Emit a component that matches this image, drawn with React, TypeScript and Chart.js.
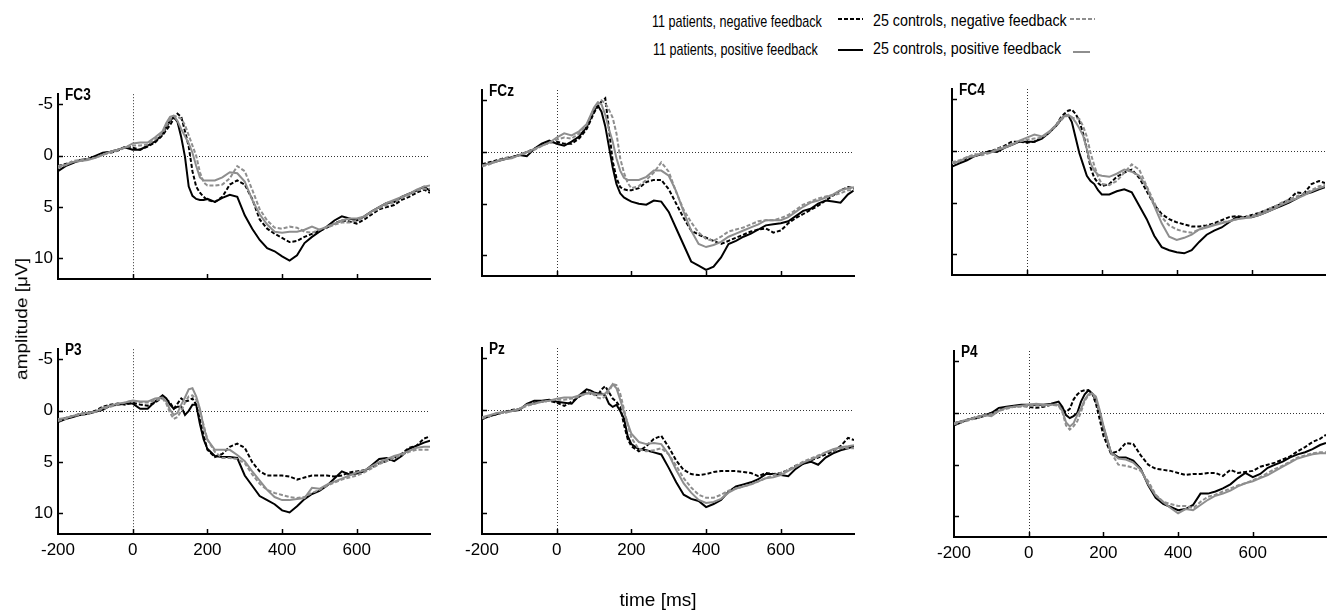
import React, { useEffect, useRef } from 'react';
import { Chart, registerables } from 'chart.js';

Chart.register(...registerables);

// ---------- data ----------
const TIMES = [
  -200, -180, -160, -140, -120, -100, -80, -60, -40, -20, 0, 20, 40, 60,
  80, 90, 100, 110, 120, 130, 140, 150, 160, 170, 180, 190, 200,
  220, 240, 260, 280, 300, 320, 340, 360, 380, 400, 420, 440, 460, 480, 500, 520, 540, 560, 580, 600,
  620, 640, 660, 680, 700, 720, 740, 760, 780,
  796,
];
const X_TICKS = [-200, 0, 200, 400, 600];
const Y_TICKS = [-5, 0, 5, 10];
const X_RANGE = [-200, 796];
const Y_RANGE = [-6, 12];
const CHANNELS = ['FC3', 'FCz', 'FC4', 'P3', 'Pz', 'P4'];
const LEGEND_LABELS = [
  '11 patients, negative feedback',
  '11 patients, positive feedback',
  '25 controls, negative feedback',
  '25 controls, positive feedback',
];

// FC3
const FC3_PAT_NEG = [
  1.0, 0.8, 0.6, 0.5, 0.3, 0.1, -0.2, -0.3, -0.5, -0.9, -0.8, -0.6, -0.9, -1.3,
  -2.0, -2.5, -3.0, -3.6, -4.1, -3.8, -2.4, -0.9, 1.5, 3.0, 3.6, 4.0, 4.3,
  4.5, 4.0, 2.8, 2.4, 2.8, 4.2, 6.2, 7.1, 7.6, 8.0, 8.4, 8.3, 7.9, 7.6, 7.3, 7.0, 6.6, 6.3, 6.4, 6.6,
  6.2, 5.7, 5.2, 5.0, 4.8, 4.3, 4.0, 3.6, 3.3,
  3.6,
];
const FC3_PAT_POS = [
  1.5, 1.0, 0.7, 0.4, 0.3, 0.0, -0.3, -0.4, -0.6, -0.8, -0.6, -0.6, -1.0, -1.4,
  -2.1, -2.8, -3.4, -3.8, -3.3, -1.8, 0.1, 3.0, 3.9, 4.2, 4.3, 4.3, 4.2,
  4.5, 4.1, 3.8, 4.0, 5.8, 7.1, 8.2, 9.0, 9.3, 9.8, 10.2, 9.7, 8.5, 7.9, 7.4, 6.9, 6.3, 5.9, 6.1, 6.3,
  5.9, 5.4, 5.0, 4.6, 4.5, 4.0, 3.7, 3.4, 3.0,
  3.4,
];
const FC3_CON_NEG = [
  1.2, 0.9, 0.5, 0.4, 0.3, 0.2, -0.1, -0.3, -0.5, -0.8, -1.0, -1.0, -1.1, -1.6,
  -2.2, -2.9, -3.5, -3.9, -3.8, -3.6, -3.0, -2.0, -1.0, 0.0, 1.6, 2.6, 2.9,
  2.9, 2.8, 2.2, 1.0, 1.5, 3.3, 5.2, 6.3, 7.0, 7.1, 6.9, 7.0, 7.4, 7.5, 7.2, 7.0, 6.7, 6.5, 6.5, 6.3,
  6.0, 5.5, 5.1, 4.8, 4.5, 4.1, 3.8, 3.4, 3.2,
  3.2,
];
const FC3_CON_POS = [
  1.0, 0.9, 0.6, 0.5, 0.4, 0.2, -0.1, -0.4, -0.6, -0.8, -1.2, -1.3, -1.3, -1.8,
  -2.4, -3.2, -3.8, -3.9, -3.4, -2.6, -1.9, -1.2, -0.3, 1.0, 2.1, 2.4, 2.4,
  2.4, 2.1, 1.6, 1.7, 2.5, 4.3, 5.7, 6.7, 7.4, 7.5, 7.4, 7.4, 7.2, 6.9, 7.2, 6.9, 6.6, 6.3, 6.1, 6.1,
  5.9, 5.4, 5.0, 4.6, 4.3, 4.0, 3.7, 3.3, 3.0,
  2.9,
];

// FCz
const FCZ_PAT_NEG = [
  1.2, 1.0, 0.8, 0.6, 0.5, 0.3, 0.0, -0.3, -0.7, -0.9, -1.0, -0.8, -0.8, -1.3,
  -2.2, -3.0, -3.8, -4.4, -4.9, -5.2, -2.2, 0.9, 2.5, 3.4, 3.6, 3.7, 3.7,
  3.5, 2.9, 2.7, 2.7, 3.6, 5.0, 6.4, 7.6, 8.0, 8.3, 8.6, 8.9, 8.6, 8.3, 8.0, 7.7, 7.5, 7.4, 7.8, 7.6,
  6.9, 6.4, 6.0, 5.6, 5.2, 4.7, 4.2, 3.7, 3.4,
  3.5,
];
const FCZ_PAT_POS = [
  1.3, 1.1, 0.9, 0.7, 0.5, 0.3, 0.4, -0.3, -0.8, -1.1, -0.8, -0.6, -1.0, -1.5,
  -2.4, -3.2, -4.0, -4.5, -3.9, -2.5, -0.5, 1.5, 3.1, 4.0, 4.4, 4.6, 4.8,
  5.0, 5.1, 4.7, 4.8, 5.8, 7.4, 9.0, 10.6, 11.0, 11.4, 11.1, 10.2, 8.9, 8.6, 8.2, 7.9, 7.5, 7.1, 7.0, 6.9,
  6.7, 6.2, 5.7, 5.5, 5.0, 4.7, 4.8, 4.9, 4.1,
  3.7,
];
const FCZ_CON_NEG = [
  1.4, 1.2, 0.9, 0.6, 0.5, 0.3, 0.1, -0.2, -0.6, -0.9, -1.2, -1.4, -1.3, -1.8,
  -2.6, -3.4, -4.2, -4.7, -5.0, -4.7, -4.1, -3.3, -1.8, 0.6, 2.0, 3.0, 3.5,
  3.3, 2.7, 2.0, 1.0, 1.9, 3.9, 5.6, 6.8, 7.8, 8.4, 8.6, 8.2, 7.7, 7.5, 7.3, 7.0, 6.7, 6.6, 6.6, 6.4,
  6.1, 5.6, 5.1, 4.8, 4.5, 4.3, 4.2, 4.0, 3.7,
  3.7,
];
const FCZ_CON_POS = [
  1.3, 1.1, 0.9, 0.7, 0.6, 0.3, 0.0, -0.3, -0.6, -0.9, -1.4, -1.8, -1.6, -2.0,
  -2.7, -3.5, -4.3, -4.8, -4.6, -3.6, -2.2, -1.0, 0.6, 1.8, 2.5, 2.7, 2.7,
  2.7, 2.4, 1.8, 1.8, 2.3, 3.8, 5.8, 7.6, 8.9, 9.2, 9.0, 8.7, 8.2, 7.9, 7.6, 7.3, 7.0, 6.6, 6.6, 6.6,
  6.3, 5.8, 5.3, 4.9, 4.7, 4.4, 4.1, 3.7, 3.5,
  3.4,
];

// FC4
const FC4_PAT_NEG = [
  1.2, 1.0, 0.7, 0.5, 0.2, 0.1, -0.2, -0.5, -0.9, -0.9, -0.8, -0.9, -1.3, -1.8,
  -2.6, -3.2, -3.6, -3.9, -4.0, -3.6, -2.9, -1.7, -0.2, 1.6, 2.6, 3.1, 3.4,
  3.2, 2.5, 2.1, 1.8, 2.6, 3.9, 5.2, 6.1, 6.6, 6.9, 7.1, 7.3, 7.3, 7.2, 7.0, 6.7, 6.4, 6.3, 6.4, 6.2,
  6.0, 5.7, 5.4, 5.1, 4.7, 4.0, 4.1, 3.2, 2.9,
  3.1,
];
const FC4_PAT_POS = [
  1.5, 1.2, 0.9, 0.5, 0.3, 0.0, 0.1, -0.3, -0.6, -0.9, -0.9, -0.9, -1.2, -1.8,
  -2.5, -3.0, -3.4, -3.5, -2.8, -1.3, 0.2, 1.3, 2.4, 2.9, 3.2, 3.8, 4.2,
  4.2, 3.9, 3.7, 4.0, 5.3, 6.6, 8.2, 9.3, 9.6, 9.8, 9.9, 9.6, 8.8, 8.1, 7.7, 7.4, 6.9, 6.4, 6.4, 6.4,
  6.2, 5.9, 5.6, 5.3, 5.0, 4.6, 4.2, 4.0, 3.7,
  3.5,
];
const FC4_CON_NEG = [
  1.1, 0.9, 0.6, 0.3, 0.4, 0.2, -0.2, -0.4, -0.7, -0.9, -1.1, -1.2, -1.3, -1.8,
  -2.5, -2.9, -3.3, -3.4, -3.2, -3.2, -3.1, -2.4, -1.4, 0.2, 1.4, 2.5, 3.2,
  3.3, 2.9, 2.1, 1.3, 1.8, 3.4, 5.0, 6.4, 7.2, 7.6, 7.8, 7.9, 7.6, 7.3, 7.1, 6.9, 6.8, 6.6, 6.4, 6.3,
  6.0, 5.7, 5.4, 5.0, 4.7, 4.4, 4.1, 3.8, 3.4,
  3.3,
];
const FC4_CON_POS = [
  1.2, 1.0, 0.6, 0.5, 0.2, 0.2, -0.1, -0.3, -0.6, -1.0, -1.3, -1.6, -1.4, -1.9,
  -2.6, -3.1, -3.4, -3.5, -3.3, -2.8, -2.2, -1.5, -0.2, 1.2, 1.9, 2.3, 2.4,
  2.5, 2.2, 1.8, 2.0, 2.4, 3.5, 5.3, 7.0, 8.3, 8.6, 8.4, 8.1, 7.6, 7.4, 7.2, 7.0, 6.8, 6.6, 6.5, 6.4,
  6.2, 5.9, 5.6, 5.2, 4.9, 4.6, 4.3, 3.9, 3.6,
  3.4,
];

// P3
const P3_PAT_NEG = [
  0.9, 0.7, 0.5, 0.3, 0.2, 0.0, -0.4, -0.6, -0.7, -0.6, -0.8, -0.6, -0.5, -0.8,
  -1.3, -1.1, -0.8, -0.2, -0.7, -1.2, -0.9, -1.0, -1.2, -0.6, 0.9, 2.4, 3.8,
  4.5, 4.2, 3.5, 3.2, 3.6, 5.0, 5.9, 6.3, 6.3, 6.3, 6.4, 6.7, 6.5, 6.3, 6.3, 6.3, 6.4, 6.3, 6.0, 5.9,
  5.8, 5.5, 5.1, 4.9, 4.6, 4.2, 3.6, 3.4, 2.7,
  2.5,
];
const P3_PAT_POS = [
  1.1, 0.8, 0.6, 0.4, 0.3, 0.1, -0.1, -0.5, -0.6, -0.7, -0.7, -0.2, -0.2, -0.9,
  -1.5, -1.2, -0.6, -0.2, -0.4, -0.4, 0.4, 0.0, -0.6, -0.6, 1.3, 2.8, 3.7,
  4.4, 4.5, 4.5, 4.6, 6.3, 7.3, 8.3, 8.7, 9.1, 9.7, 9.9, 9.3, 8.6, 8.1, 7.8, 7.3, 6.6, 5.9, 6.2, 6.1,
  5.9, 5.3, 4.7, 4.6, 4.9, 4.4, 3.7, 3.4, 3.1,
  2.9,
];
const P3_CON_NEG = [
  1.0, 0.8, 0.5, 0.4, 0.3, 0.1, -0.2, -0.4, -0.6, -0.8, -1.0, -0.8, -0.8, -1.0,
  -1.2, -0.7, 0.2, 0.8, 0.6, 0.0, -0.8, -1.4, -1.5, -1.1, 0.0, 1.4, 2.8,
  4.0, 4.6, 4.6, 4.7, 5.1, 6.2, 7.1, 7.7, 8.0, 8.2, 8.4, 8.5, 8.4, 8.0, 7.7, 7.3, 7.0, 6.7, 6.5, 6.3,
  6.0, 5.6, 5.2, 4.9, 4.6, 4.3, 4.0, 3.8, 3.8,
  3.8,
];
const P3_CON_POS = [
  0.8, 0.7, 0.5, 0.3, 0.2, 0.1, -0.3, -0.5, -0.7, -0.8, -1.0, -0.9, -0.9, -1.2,
  -1.3, -0.9, -0.1, 0.4, 0.2, -0.6, -1.3, -2.1, -2.2, -1.4, -0.2, 1.6, 2.8,
  3.8, 3.8, 3.8, 4.3, 4.9, 5.9, 6.8, 7.7, 8.4, 8.7, 8.7, 8.6, 8.5, 7.5, 7.6, 7.2, 6.9, 6.6, 6.3, 6.0,
  5.8, 5.4, 5.0, 4.7, 4.4, 4.2, 3.9, 3.6, 3.5,
  3.5,
];

// Pz
const PZ_PAT_NEG = [
  0.8, 0.6, 0.4, 0.2, 0.0, -0.1, -0.5, -0.7, -0.8, -0.9, -0.7, -0.4, -0.8, -1.3,
  -1.8, -1.6, -1.5, -1.4, -2.0, -2.3, -1.7, -1.1, -0.8, -0.3, 1.4, 2.8, 3.5,
  4.0, 3.5, 2.8, 2.5, 3.6, 4.9, 5.8, 6.2, 6.3, 6.2, 6.0, 5.9, 5.9, 5.9, 6.0, 6.1, 6.4, 6.1, 6.2, 6.1,
  5.8, 5.4, 5.2, 4.9, 4.6, 4.3, 4.0, 3.5, 2.7,
  2.9,
];
const PZ_PAT_POS = [
  0.9, 0.6, 0.4, 0.2, 0.1, 0.0, -0.6, -0.9, -0.9, -1.0, -0.8, -0.7, -0.6, -1.4,
  -2.0, -1.9, -1.7, -1.6, -1.6, -1.4, -0.6, -0.3, -0.5, 0.1, 0.8, 2.5, 3.3,
  3.8, 3.9, 4.1, 4.3, 5.6, 7.0, 8.2, 8.6, 8.8, 9.4, 9.1, 8.7, 7.9, 7.4, 7.2, 7.0, 6.7, 6.2, 6.2, 6.3,
  6.4, 5.7, 5.2, 5.0, 5.3, 4.6, 4.2, 3.9, 3.7,
  3.5,
];
const PZ_CON_NEG = [
  0.8, 0.6, 0.3, 0.3, 0.1, -0.1, -0.4, -0.6, -0.8, -0.9, -1.0, -1.0, -1.1, -1.3,
  -1.6, -1.6, -1.5, -1.2, -1.1, -1.3, -1.8, -2.5, -2.4, -1.6, -0.1, 1.4, 2.7,
  3.8, 4.0, 3.9, 3.7, 4.3, 5.4, 6.6, 7.5, 8.2, 8.5, 8.5, 8.2, 7.8, 7.6, 7.4, 7.2, 6.9, 6.6, 6.3, 6.1,
  5.8, 5.4, 5.0, 4.7, 4.4, 4.1, 3.9, 3.7, 3.7,
  3.7,
];
const PZ_CON_POS = [
  0.7, 0.5, 0.3, 0.2, 0.1, -0.1, -0.5, -0.6, -0.8, -0.9, -1.1, -1.2, -1.2, -1.4,
  -1.6, -1.7, -1.6, -1.5, -1.5, -1.6, -2.0, -2.5, -2.1, -1.0, 0.2, 1.3, 2.3,
  3.1, 3.3, 3.2, 3.3, 4.3, 5.8, 7.1, 8.0, 8.7, 9.0, 8.9, 8.6, 8.0, 7.6, 7.4, 7.2, 6.9, 6.6, 6.5, 6.3,
  5.9, 5.5, 5.1, 4.8, 4.5, 4.1, 3.8, 3.6, 3.5,
  3.4,
];

// P4
const P4_PAT_NEG = [
  1.0, 0.8, 0.6, 0.4, 0.2, 0.0, -0.3, -0.5, -0.6, -0.7, -0.6, -0.5, -0.6, -0.8,
  -0.8, -0.3, -0.1, -0.4, -1.3, -1.8, -2.1, -2.2, -2.2, -1.9, -0.9, 0.6, 2.2,
  3.9, 3.7, 2.9, 3.0, 4.1, 5.0, 5.4, 5.5, 5.6, 5.8, 6.0, 5.9, 5.9, 5.8, 5.8, 6.1, 5.5, 5.8, 5.7, 5.6,
  5.2, 5.0, 4.8, 4.5, 4.2, 3.7, 3.3, 2.8, 2.5,
  2.1,
];
const P4_PAT_POS = [
  1.2, 0.9, 0.6, 0.5, 0.3, 0.0, -0.5, -0.6, -0.7, -0.8, -0.8, -0.8, -0.8, -0.9,
  -1.1, -0.6, 0.2, 0.5, 0.3, 0.0, -1.1, -1.8, -2.2, -1.9, -1.2, 0.0, 1.4,
  3.8, 4.3, 4.3, 4.6, 5.4, 7.0, 8.2, 8.8, 9.1, 9.4, 9.3, 8.9, 7.8, 7.8, 7.6, 7.3, 6.9, 6.3, 5.8, 6.2,
  5.9, 5.3, 5.0, 4.7, 4.3, 4.0, 3.8, 3.5, 3.1,
  2.9,
];
const P4_CON_NEG = [
  1.1, 0.9, 0.7, 0.5, 0.3, 0.1, -0.2, -0.4, -0.6, -0.6, -0.7, -0.7, -0.7, -0.8,
  -0.7, -0.1, 1.2, 1.6, 1.3, 0.8, -0.1, -1.2, -1.7, -1.9, -1.3, 0.0, 1.3,
  3.8, 5.0, 5.1, 5.3, 5.6, 6.6, 7.9, 8.6, 8.8, 9.0, 9.0, 9.2, 8.6, 8.1, 7.9, 7.6, 7.3, 7.0, 6.8, 6.5,
  6.2, 5.8, 5.4, 5.1, 4.7, 4.3, 4.1, 3.9, 3.8,
  3.8,
];
const P4_CON_POS = [
  1.0, 0.8, 0.6, 0.4, 0.2, 0.3, -0.2, -0.5, -0.6, -0.7, -0.8, -0.9, -0.8, -0.8,
  -0.8, -0.2, 0.9, 1.3, 1.0, 0.2, -0.4, -1.3, -1.8, -1.9, -1.6, -0.3, 1.2,
  3.8, 4.4, 4.5, 4.8, 5.5, 6.9, 8.0, 8.6, 9.2, 9.7, 9.3, 9.4, 8.9, 8.4, 8.0, 7.8, 7.5, 7.1, 6.8, 6.6,
  6.3, 6.0, 5.6, 5.2, 4.8, 4.4, 4.2, 4.0, 3.9,
  3.9,
];

// per channel: [patients neg, patients pos, controls neg, controls pos]
const CHANNEL_DATA = [
  [FC3_PAT_NEG, FC3_PAT_POS, FC3_CON_NEG, FC3_CON_POS],
  [FCZ_PAT_NEG, FCZ_PAT_POS, FCZ_CON_NEG, FCZ_CON_POS],
  [FC4_PAT_NEG, FC4_PAT_POS, FC4_CON_NEG, FC4_CON_POS],
  [P3_PAT_NEG, P3_PAT_POS, P3_CON_NEG, P3_CON_POS],
  [PZ_PAT_NEG, PZ_PAT_POS, PZ_CON_NEG, PZ_CON_POS],
  [P4_PAT_NEG, P4_PAT_POS, P4_CON_NEG, P4_CON_POS],
];

// ---------- styles / layout ----------
const BLACK = '#000000';
const GRAY = '#8e8e8e';
const SERIES_STYLES = [
  { color: BLACK, dash: [4, 2], width: 2 },
  { color: BLACK, dash: [], width: 2 },
  { color: GRAY, dash: [4, 2], width: 2 },
  { color: GRAY, dash: [], width: 2 },
];
const DRAW_ORDER = [2, 3, 0, 1];

const PANEL_BOXES = [
  { left: 58, top: 93, w: 372, h: 186, xLabels: false, yLabels: true },
  { left: 482, top: 90, w: 372, h: 186, xLabels: false, yLabels: false },
  { left: 952, top: 89, w: 373, h: 186, xLabels: false, yLabels: false },
  { left: 58, top: 348, w: 372, h: 186, xLabels: true, yLabels: true },
  { left: 482, top: 348, w: 372, h: 186, xLabels: true, yLabels: false },
  { left: 954, top: 351, w: 372, h: 186, xLabels: true, yLabels: false },
];

const AX_W = 56;
const AX_H = 44;
const PAD_T = 14;
const PAD_R = 4;
const TICK_FONT = { family: '"Liberation Sans", Arial, sans-serif', size: 17 };

function makeOverlay(title: string) {
  return {
    id: 'eegOverlay',
    beforeDatasetsDraw(chart: any) {
      const { ctx, chartArea: ca, scales } = chart;
      const x = scales.x;
      const y = scales.y;
      ctx.save();
      ctx.strokeStyle = '#333';
      ctx.lineWidth = 1;
      ctx.setLineDash([1, 2]);
      const x0 = Math.round(x.getPixelForValue(0)) + 0.5;
      ctx.beginPath();
      ctx.moveTo(x0, ca.top);
      ctx.lineTo(x0, ca.bottom);
      ctx.stroke();
      const y0 = Math.round(y.getPixelForValue(0)) + 0.5;
      ctx.beginPath();
      ctx.moveTo(ca.left, y0);
      ctx.lineTo(ca.right, y0);
      ctx.stroke();
      ctx.restore();
    },
    afterDraw(chart: any) {
      const { ctx, chartArea: ca, scales } = chart;
      const x = scales.x;
      const y = scales.y;
      ctx.save();
      ctx.strokeStyle = '#000';
      ctx.lineWidth = 1.5;
      ctx.setLineDash([]);
      X_TICKS.forEach((v) => {
        if (v === X_RANGE[0]) return;
        const px = Math.round(x.getPixelForValue(v)) + 0.5;
        ctx.beginPath();
        ctx.moveTo(px, ca.bottom);
        ctx.lineTo(px, ca.bottom - 5);
        ctx.stroke();
      });
      Y_TICKS.forEach((v) => {
        const py = Math.round(y.getPixelForValue(v)) + 0.5;
        ctx.beginPath();
        ctx.moveTo(ca.left, py);
        ctx.lineTo(ca.left + 5, py);
        ctx.stroke();
      });
      ctx.translate(ca.left + 7, ca.top + 6);
      ctx.scale(0.85, 1);
      ctx.fillStyle = '#000';
      ctx.font = 'bold 16px "Liberation Sans", Arial, sans-serif';
      ctx.textBaseline = 'alphabetic';
      ctx.fillText(title, 0, 0);
      ctx.restore();
    },
  };
}

function Panel({ index }: { index: number }) {
  const ref = useRef<HTMLCanvasElement>(null);
  const box = PANEL_BOXES[index];
  const W = AX_W + box.w + PAD_R;
  const H = PAD_T + box.h + AX_H;

  useEffect(() => {
    const canvas = ref.current;
    if (!canvas) return;
    const values = CHANNEL_DATA[index];
    const datasets = DRAW_ORDER.map((s) => ({
      label: LEGEND_LABELS[s],
      data: TIMES.map((t, i) => ({ x: t, y: values[s][i] })),
      borderColor: SERIES_STYLES[s].color,
      borderDash: SERIES_STYLES[s].dash,
      borderWidth: SERIES_STYLES[s].width,
      pointRadius: 0,
      fill: false,
      tension: 0,
    }));
    const chart = new Chart(canvas, {
      type: 'line',
      data: { datasets },
      options: {
        animation: false,
        responsive: false,
        devicePixelRatio: 1,
        events: [],
        layout: { padding: { left: 0, top: PAD_T, right: PAD_R, bottom: 0 } },
        plugins: {
          legend: { display: false },
          tooltip: { enabled: false },
          title: { display: false },
        },
        scales: {
          x: {
            type: 'linear',
            min: X_RANGE[0],
            max: X_RANGE[1],
            afterBuildTicks: (axis: any) => {
              axis.ticks = X_TICKS.map((v) => ({ value: v }));
            },
            afterFit: (scale: any) => {
              scale.height = AX_H;
            },
            grid: { display: false, drawTicks: false },
            border: { display: true, color: '#000', width: 2 },
            ticks: {
              display: box.xLabels,
              color: '#000',
              font: TICK_FONT,
              padding: 6,
              autoSkip: false,
              maxRotation: 0,
              minRotation: 0,
              callback: (v: any) => String(v),
            },
          },
          y: {
            type: 'linear',
            min: Y_RANGE[0],
            max: Y_RANGE[1],
            reverse: true,
            afterBuildTicks: (axis: any) => {
              axis.ticks = Y_TICKS.map((v) => ({ value: v }));
            },
            afterFit: (scale: any) => {
              scale.width = AX_W;
            },
            grid: { display: false, drawTicks: false },
            border: { display: true, color: '#000', width: 2 },
            ticks: {
              display: box.yLabels,
              color: '#000',
              font: TICK_FONT,
              padding: 5,
              autoSkip: false,
              callback: (v: any) => String(v),
            },
          },
        },
      } as any,
      plugins: [makeOverlay(CHANNELS[index])],
    });
    return () => chart.destroy();
  }, [index]);

  return (
    <canvas
      ref={ref}
      width={W}
      height={H}
      style={{ position: 'absolute', left: box.left - AX_W, top: box.top - PAD_T, width: W, height: H }}
    />
  );
}

function LegendLine({ x, y, w, color, dashed }: { x: number; y: number; w: number; color: string; dashed: boolean }) {
  return (
    <svg
      width={w}
      height={6}
      style={{ position: 'absolute', left: x, top: y - 3, overflow: 'visible' }}
    >
      <line x1={0} y1={3} x2={w} y2={3} stroke={color} strokeWidth={2} strokeDasharray={dashed ? '4 2' : undefined} />
    </svg>
  );
}

const textBase: React.CSSProperties = {
  position: 'absolute',
  whiteSpace: 'nowrap',
  fontFamily: '"Liberation Sans", Arial, sans-serif',
  color: '#000',
  transformOrigin: '0 0',
};

export default function App() {
  return (
    <div style={{ position: 'absolute', left: 0, top: 0, width: 1329, height: 611, background: '#fff', overflow: 'hidden' }}>
      {PANEL_BOXES.map((_, i) => (
        <Panel key={i} index={i} />
      ))}

      {/* legend */}
      <div style={{ ...textBase, left: 652, top: 13, fontSize: 17, lineHeight: '17px', transform: 'scaleX(0.74)' }}>
        {LEGEND_LABELS[0]}
      </div>
      <div style={{ ...textBase, left: 653, top: 41, fontSize: 17, lineHeight: '17px', transform: 'scaleX(0.74)' }}>
        {LEGEND_LABELS[1]}
      </div>
      <div style={{ ...textBase, left: 873, top: 12, fontSize: 17, lineHeight: '17px', transform: 'scaleX(0.84)' }}>
        {LEGEND_LABELS[2]}
      </div>
      <div style={{ ...textBase, left: 873, top: 40, fontSize: 17, lineHeight: '17px', transform: 'scaleX(0.84)' }}>
        {LEGEND_LABELS[3]}
      </div>
      <LegendLine x={838} y={19} w={25} color={BLACK} dashed={true} />
      <LegendLine x={838} y={50} w={25} color={BLACK} dashed={false} />
      <LegendLine x={1070} y={19} w={25} color={GRAY} dashed={true} />
      <LegendLine x={1073} y={52} w={17} color={GRAY} dashed={false} />

      {/* axis titles */}
      <div
        style={{
          ...textBase,
          left: 22 - 100,
          top: 319 - 12,
          width: 200,
          height: 24,
          lineHeight: '24px',
          fontSize: 19,
          textAlign: 'center',
          transformOrigin: '50% 50%',
          transform: 'scaleX(0.9) rotate(-90deg)',
        }}
      >
        amplitude [μV]
      </div>
      <div
        style={{
          ...textBase,
          left: 658 - 100,
          top: 590,
          width: 200,
          fontSize: 19,
          lineHeight: '19px',
          textAlign: 'center',
        }}
      >
        time [ms]
      </div>
    </div>
  );
}
